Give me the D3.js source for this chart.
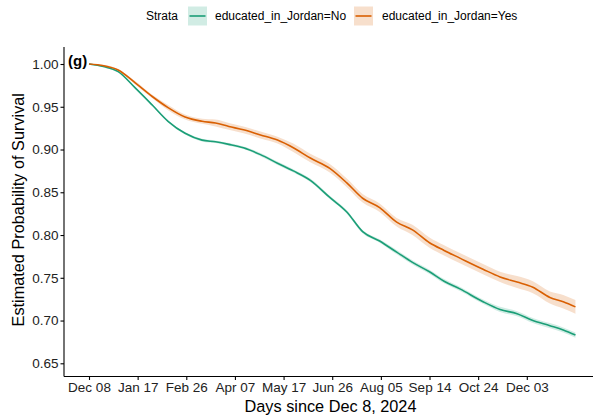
<!DOCTYPE html>
<html>
<head>
<meta charset="utf-8">
<script src="https://cdn.jsdelivr.net/npm/d3@7"></script>
<style>
  html, body { margin: 0; padding: 0; background: #fff; }
  svg text { font-family: "Liberation Sans", Arial, sans-serif; }
</style>
</head>
<body>
<svg id="chart" width="597" height="417"></svg>
<script>
// Follow-up time (days since Dec 8, 2024)
const days = [0, 12, 24, 38, 52, 65, 79, 93, 104, 115, 127, 141, 155, 168, 182, 198,
              212, 225, 239, 253, 266, 280, 292, 305, 324, 338, 352, 365, 379, 390, 400];

// Kaplan-Meier survival estimates per stratum
const survivalNo  = [1.000, 0.997, 0.991, 0.972, 0.952, 0.933, 0.919, 0.911, 0.909, 0.906, 0.902,
                     0.894, 0.884, 0.875, 0.864, 0.844, 0.827, 0.804, 0.793, 0.780, 0.768, 0.757,
                     0.746, 0.737, 0.722, 0.713, 0.708, 0.700, 0.694, 0.689, 0.683];
const survivalYes = [1.000, 0.998, 0.993, 0.978, 0.962, 0.949, 0.938, 0.933, 0.931, 0.927, 0.923,
                     0.917, 0.911, 0.902, 0.890, 0.878, 0.861, 0.843, 0.832, 0.815, 0.806, 0.791,
                     0.782, 0.773, 0.760, 0.751, 0.745, 0.739, 0.727, 0.722, 0.716];

// Half-width of the 95% confidence band per stratum
const ciNo  = [0, 0.001, 0.001, 0.001, 0.001, 0.001, 0.0015, 0.0015, 0.0015, 0.0015, 0.0015,
               0.002, 0.002, 0.002, 0.002, 0.002, 0.002, 0.002, 0.002, 0.0025, 0.0025, 0.0025,
               0.0025, 0.0025, 0.0025, 0.003, 0.003, 0.003, 0.003, 0.003, 0.003];
const ciYes = [0, 0.001, 0.001, 0.002, 0.002, 0.003, 0.003, 0.003, 0.004, 0.004, 0.004,
               0.004, 0.004, 0.005, 0.005, 0.005, 0.005, 0.005, 0.005, 0.005, 0.006, 0.006,
               0.006, 0.006, 0.006, 0.006, 0.007, 0.007, 0.007, 0.008, 0.008];

const strata = ["educated_in_Jordan=No", "educated_in_Jordan=Yes"];
const colors = ["#1B9E77", "#D95F02"];

const xTickDays   = [0, 40, 80, 120, 160, 200, 240, 280, 320, 360];
const xTickLabels = ["Dec 08", "Jan 17", "Feb 26", "Apr 07", "May 17", "Jun 26",
                     "Aug 05", "Sep 14", "Oct 24", "Dec 03"];
const yTicks = [0.65, 0.70, 0.75, 0.80, 0.85, 0.90, 0.95, 1.00];

const svg = d3.select("#chart");

const panel = { left: 64, right: 593, top: 47, bottom: 376.5 };

const x = d3.scaleLinear().domain([0, 360]).range([89, 526.8]);
const y = d3.scaleLinear().domain([0.65, 1.0]).range([363.3, 64]);

const series = [
  { name: strata[0], color: colors[0], s: survivalNo,  ci: ciNo },
  { name: strata[1], color: colors[1], s: survivalYes, ci: ciYes }
];

const plot = svg.append("g");

// confidence bands
const area = d3.area()
  .x(d => x(d.t))
  .y0(d => y(d.lo))
  .y1(d => y(d.hi))
  .curve(d3.curveMonotoneX);

series.forEach(sr => {
  const pts = days.map((t, i) => ({ t, lo: sr.s[i] - sr.ci[i], hi: sr.s[i] + sr.ci[i] }));
  plot.append("path")
    .attr("d", area(pts))
    .attr("fill", sr.color)
    .attr("fill-opacity", 0.2);
});

// survival curves
const line = d3.line()
  .x(d => x(d.t))
  .y(d => y(d.v))
  .curve(d3.curveMonotoneX);

series.forEach(sr => {
  const pts = days.map((t, i) => ({ t, v: sr.s[i] }));
  plot.append("path")
    .attr("d", line(pts))
    .attr("fill", "none")
    .attr("stroke", sr.color)
    .attr("stroke-width", 1.6)
    .attr("stroke-linejoin", "round");
});

// axes
const xAxis = d3.axisBottom(x)
  .tickValues(xTickDays)
  .tickFormat((d, i) => xTickLabels[i])
  .tickSize(3.5)
  .tickSizeOuter(0);
const gx = svg.append("g")
  .attr("transform", `translate(0,${panel.bottom})`)
  .call(xAxis);
gx.select(".domain").remove();
gx.append("line")
  .attr("x1", panel.left).attr("x2", panel.right)
  .attr("y1", 0).attr("y2", 0)
  .attr("stroke", "#000").attr("stroke-width", 1.1);
gx.selectAll(".tick line").attr("stroke", "#000").attr("stroke-width", 1.1);
gx.selectAll(".tick text")
  .attr("y", 6)
  .attr("fill", "#222")
  .style("font-size", "13.5px");

const yAxis = d3.axisLeft(y)
  .tickValues(yTicks)
  .tickFormat(d3.format(".2f"))
  .tickSize(3.5)
  .tickSizeOuter(0);
const gy = svg.append("g")
  .attr("transform", `translate(${panel.left},0)`)
  .call(yAxis);
gy.select(".domain").remove();
gy.append("line")
  .attr("x1", 0).attr("x2", 0)
  .attr("y1", panel.top).attr("y2", panel.bottom)
  .attr("stroke", "#000").attr("stroke-width", 1.1);
gy.selectAll(".tick line").attr("stroke", "#000").attr("stroke-width", 1.1);
gy.selectAll(".tick text")
  .attr("x", -5.5)
  .attr("fill", "#222")
  .style("font-size", "13.5px");

// axis titles
svg.append("text")
  .attr("x", (panel.left + panel.right) / 2 + 2)
  .attr("y", 412)
  .attr("text-anchor", "middle")
  .style("font-size", "16.3px")
  .attr("fill", "#000")
  .text("Days since Dec 8, 2024");

svg.append("text")
  .attr("transform", `translate(24,${(panel.top + panel.bottom) / 2 - 2}) rotate(-90)`)
  .attr("text-anchor", "middle")
  .style("font-size", "16.3px")
  .attr("fill", "#000")
  .text("Estimated Probability of Survival");

// panel tag
svg.append("text")
  .attr("x", 68)
  .attr("y", 66)
  .style("font-size", "15px")
  .style("font-weight", "bold")
  .attr("fill", "#000")
  .text("(g)");

// legend
const legend = svg.append("g");
legend.append("text")
  .attr("x", 146).attr("y", 20.3)
  .style("font-size", "12px")
  .attr("fill", "#000")
  .text("Strata");

const keyX = [188, 354];
const labelX = [215, 382];
series.forEach((sr, i) => {
  legend.append("rect")
    .attr("x", keyX[i]).attr("y", 6.5)
    .attr("width", 19).attr("height", 19)
    .attr("fill", sr.color).attr("fill-opacity", 0.2);
  legend.append("line")
    .attr("x1", keyX[i] + 1.5).attr("x2", keyX[i] + 17.5)
    .attr("y1", 16).attr("y2", 16)
    .attr("stroke", sr.color).attr("stroke-width", 1.6);
  legend.append("text")
    .attr("x", labelX[i]).attr("y", 20.3)
    .style("font-size", "12px")
    .attr("fill", "#000")
    .text(sr.name);
});
</script>
</body>
</html>
